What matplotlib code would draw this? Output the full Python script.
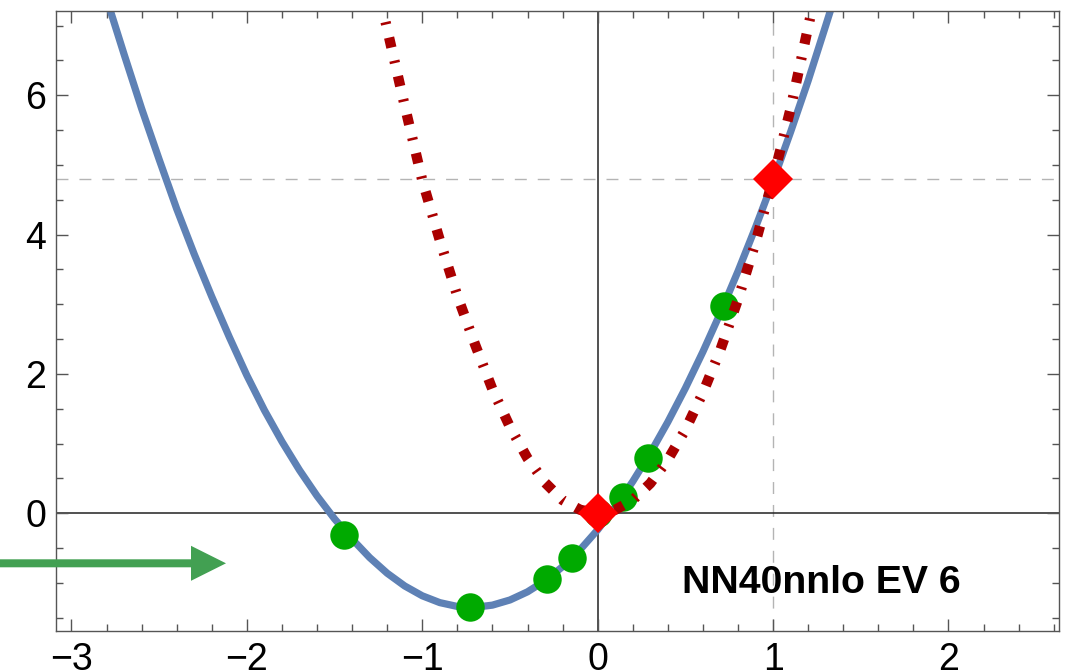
import matplotlib
matplotlib.use('Agg')
import matplotlib.pyplot as plt
from matplotlib.ticker import MultipleLocator, FixedLocator
from matplotlib.patches import FancyArrow

plt.rcParams['font.family'] = ['Liberation Sans', 'DejaVu Sans']

# ---- data ----
blue_x = [-2.80, -2.70, -2.60, -2.50, -2.40, -2.30, -2.20, -2.10, -2.00, -1.90,
          -1.80, -1.70, -1.60, -1.50, -1.40, -1.30, -1.20, -1.10, -1.00, -0.90,
          -0.80, -0.70, -0.60, -0.50, -0.40, -0.30, -0.20, -0.10, 0.00, 0.10,
          0.20, 0.30, 0.40, 0.50, 0.60, 0.70, 0.80, 0.90, 1.00, 1.10,
          1.20, 1.30, 1.35]
blue_y = [7.39, 6.59, 5.81, 5.08, 4.37, 3.72, 3.11, 2.53, 1.98, 1.48,
          1.03, 0.62, 0.25, -0.08, -0.37, -0.635, -0.86, -1.043, -1.184, -1.282,
          -1.337, -1.349, -1.318, -1.244, -1.127, -0.968, -0.766, -0.522, -0.237, 0.090,
          0.457, 0.864, 1.311, 1.796, 2.319, 2.879, 3.474, 4.105, 4.770, 5.475,
          6.21, 7.00, 7.40]

red_x = [-1.25, -1.10, -1.0, -0.9, -0.8, -0.7, -0.6, -0.5, -0.4, -0.3, -0.2, -0.1, 0.0,
         0.1, 0.2, 0.3, 0.4, 0.5, 0.6, 0.7, 0.8, 0.9, 1.0, 1.1, 1.24]
red_y = [7.50, 5.85, 4.78, 3.92, 3.12, 2.43, 1.78, 1.24, 0.79, 0.44, 0.19, 0.05, 0.0,
         0.05, 0.19, 0.43, 0.77, 1.20, 1.73, 2.35, 3.07, 3.89, 4.80, 5.81, 7.45]

pts_x = [-1.446, -0.728, -0.291, -0.145, 0.0, 0.145, 0.289, 0.72]
pts_y = [-0.31, -1.34, -0.94, -0.637, 0.0, 0.235, 0.789, 2.976]

dia_x = [0.0, 1.0]
dia_y = [0.0, 4.8]

ref_x = 1.0
ref_y = 4.8

xticks = [-3, -2, -1, 0, 1, 2]
yticks = [0, 2, 4, 6]
label_text = "NN40nnlo EV 6"

# ---- figure ----
W, H = 1077, 672
fig = plt.figure(figsize=(W / 100, H / 100), dpi=100)
L, R, T, B = 56, 1059, 11, 630.7
ax = fig.add_axes([L / W, 1 - B / H, (R - L) / W, (B - T) / H])
ax.set_xlim(-3.088, 2.630)
ax.set_ylim(-1.685, 7.21)

gray = '#b4b4b4'
ax.axhline(ref_y, color=gray, lw=1.0, dashes=(8.6, 7.9), zorder=1)
ax.axvline(ref_x, color=gray, lw=1.0, dashes=(8.6, 7.9), zorder=1)
ax.axhline(0, color='#222222', lw=1.1, zorder=1.5)
ax.axvline(0, color='#222222', lw=1.1, zorder=1.5)

ax.plot(blue_x, blue_y, color='#5e81b5', lw=5.2, solid_capstyle='butt',
        solid_joinstyle='round', zorder=2)
ax.plot(pts_x, pts_y, 'o', color='#00aa00', ms=20.5, mew=0, zorder=3)
ax.plot(red_x, red_y, color='#aa0000', lw=7.4, dashes=(1.0, 1.3, 0.25, 1.3),
        dash_capstyle='butt', zorder=4)
ax.plot(dia_x, dia_y, 'D', color='#ff0000', ms=20, mew=0, zorder=5)

ax.text(0.7634, 0.077, label_text, transform=ax.transAxes, ha='center', va='center',
        fontsize=28.3, fontweight='bold', color='black', zorder=6)

ax.xaxis.set_major_locator(FixedLocator(xticks))
ax.yaxis.set_major_locator(FixedLocator(yticks))
ax.xaxis.set_minor_locator(MultipleLocator(0.2))
ax.yaxis.set_minor_locator(MultipleLocator(0.5))
ax.tick_params(which='both', direction='in', top=True, right=True,
               color='#555555', width=1.0)
ax.tick_params(which='major', length=8.6, labelsize=27)
ax.tick_params(axis='x', which='major', pad=8)
ax.tick_params(axis='y', which='major', pad=7)
ax.tick_params(which='minor', length=5.0)
for s in ax.spines.values():
    s.set_color('#555555')
    s.set_linewidth(1.0)

arrow = FancyArrow(0.0, 1 - 563.3 / H, 226 / W, 0.0, width=8 / H, head_width=35 / H,
                   head_length=35 / W, length_includes_head=True,
                   color='#42a052', lw=0, transform=fig.transFigure, clip_on=False)
fig.add_artist(arrow)

fig.savefig('out.png', dpi=100)
